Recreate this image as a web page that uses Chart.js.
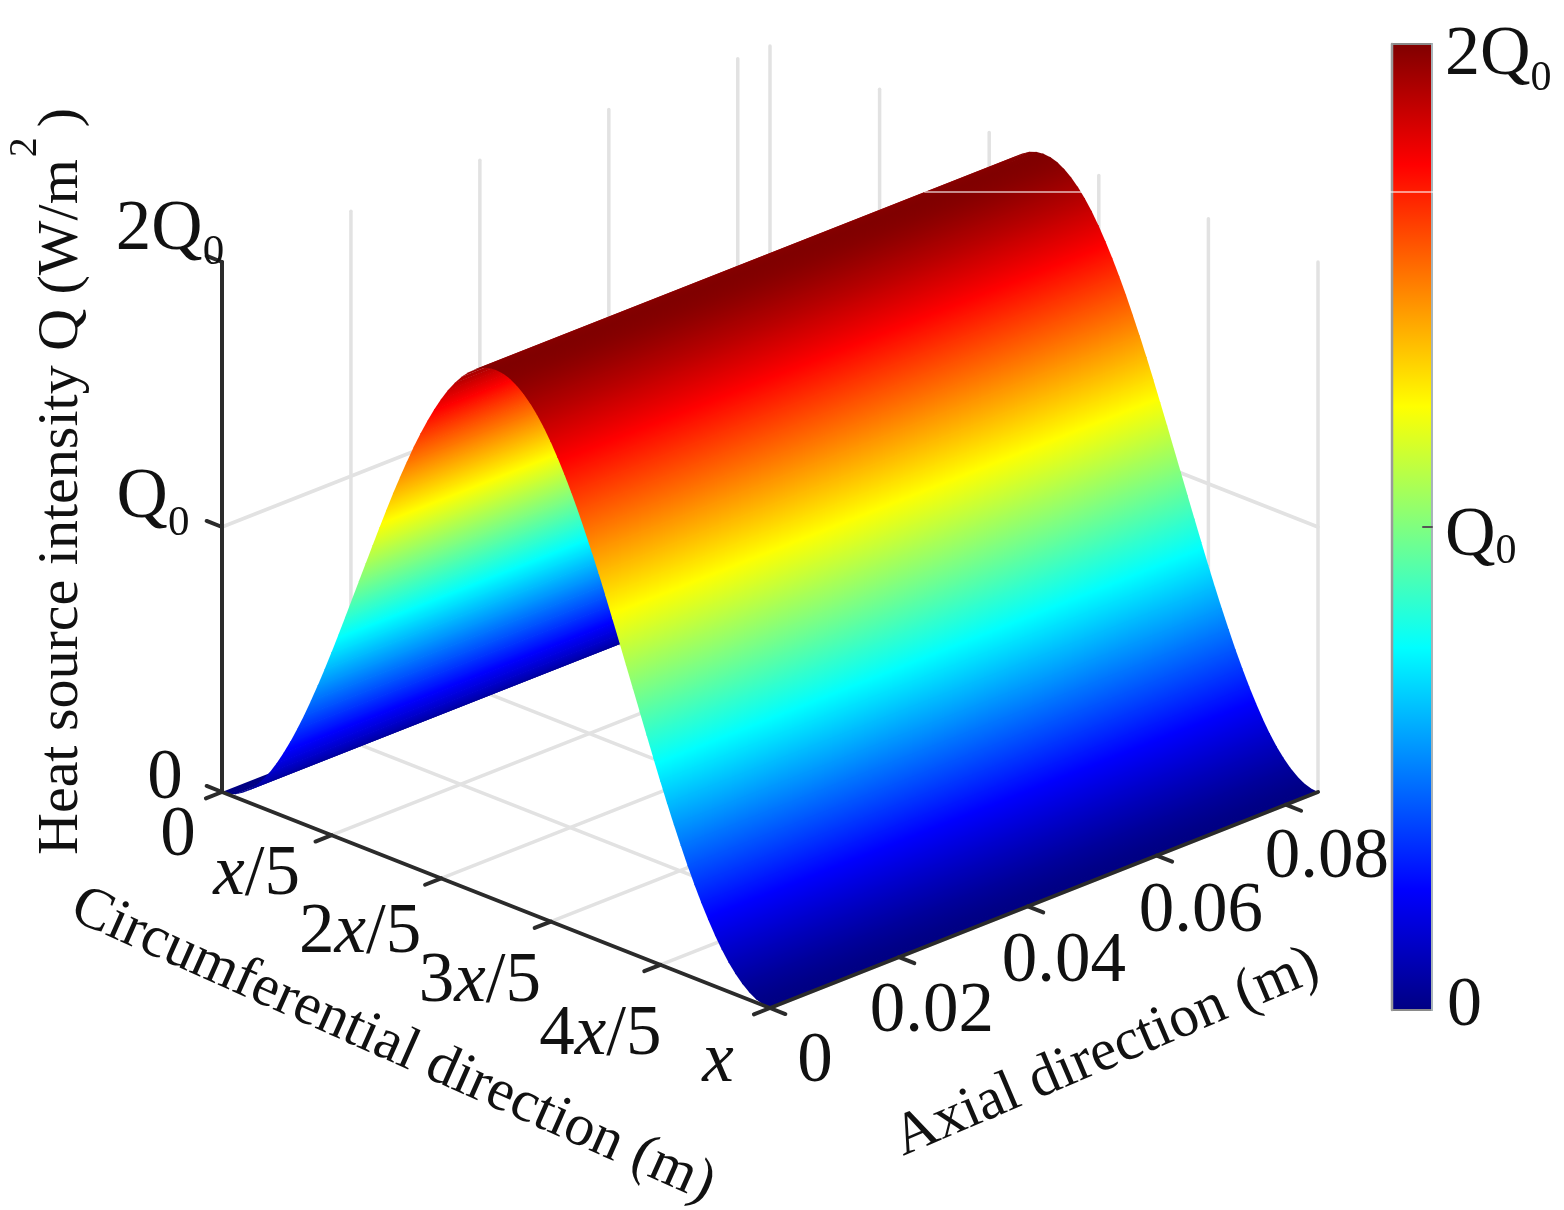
<!DOCTYPE html>
<html>
<head>
<meta charset="utf-8">
<title>Heat source intensity</title>
<script src="https://cdn.jsdelivr.net/npm/chart.js@4"></script>
<style>
  html, body { margin: 0; padding: 0; background: #fff; }
  canvas { display: block; filter: blur(0.6px); }
</style>
</head>
<body>
<canvas id="myChart" width="1564" height="1210"></canvas>
<script>
// Circumferential position as a share of x, read along the front edge of the surface
const circumPos = [0, 0.0125, 0.025, 0.0375, 0.05, 0.0625, 0.075, 0.0875, 0.1, 0.1125, 0.125, 0.1375, 0.15, 0.1625, 0.175, 0.1875, 0.2, 0.2125, 0.225, 0.2375,
    0.25, 0.2625, 0.275, 0.2875, 0.3, 0.3125, 0.325, 0.3375, 0.35, 0.3625, 0.375, 0.3875, 0.4, 0.4125, 0.425, 0.4375, 0.45, 0.4625, 0.475, 0.4875,
    0.5, 0.5125, 0.525, 0.5375, 0.55, 0.5625, 0.575, 0.5875, 0.6, 0.6125, 0.625, 0.6375, 0.65, 0.6625, 0.675, 0.6875, 0.7, 0.7125, 0.725, 0.7375,
    0.75, 0.7625, 0.775, 0.7875, 0.8, 0.8125, 0.825, 0.8375, 0.85, 0.8625, 0.875, 0.8875, 0.9, 0.9125, 0.925, 0.9375, 0.95, 0.9625, 0.975, 0.9875, 1];
// Q / Q0 at each circumferential position
const heatValues = [0, 0.003, 0.012, 0.028, 0.049, 0.076, 0.109, 0.147, 0.191, 0.24, 0.293, 0.351, 0.412, 0.478, 0.546, 0.617, 0.691, 0.767, 0.844, 0.922,
    1, 1.078, 1.156, 1.233, 1.309, 1.383, 1.454, 1.522, 1.588, 1.649, 1.707, 1.76, 1.809, 1.853, 1.891, 1.924, 1.951, 1.972, 1.988, 1.997,
    2, 1.997, 1.988, 1.972, 1.951, 1.924, 1.891, 1.853, 1.809, 1.76, 1.707, 1.649, 1.588, 1.522, 1.454, 1.383, 1.309, 1.233, 1.156, 1.078,
    1, 0.922, 0.844, 0.767, 0.691, 0.617, 0.546, 0.478, 0.412, 0.351, 0.293, 0.24, 0.191, 0.147, 0.109, 0.076, 0.049, 0.028, 0.012, 0.003, 0];
const axialPos = [0, 0.085];

const circumTicks = [0, 0.2, 0.4, 0.6, 0.8, 1];
const circumTickLabels = ['0', 'x/5', '2x/5', '3x/5', '4x/5', 'x'];
const axialTicks = [0, 0.02, 0.04, 0.06, 0.08];
const axialTickLabels = ['0', '0.02', '0.04', '0.06', '0.08'];
const heatTicks = [0, 1, 2];
const heatTickLabels = ['0', 'Q0', '2Q0'];

// jet colormap, position on the 0..2Q0 range
const jetPos = [0, 0.125, 0.375, 0.625, 0.875, 1];
const jetRgb = [[0, 0, 131], [0, 0, 255], [0, 255, 255], [255, 255, 0], [255, 0, 0], [128, 0, 0]];

// Projection of the box on the page
const corner = { x0: 222, y0: 792, cx: 548, cy: 216, ax: 548, ay: -216, zh: 530 };
const axialMax = axialPos[axialPos.length - 1];
const cbar = { left: 1392, right: 1432, top: 44, bottom: 1010 };

function project(c, a, q) {
    let t = a / axialMax;
    return {
        x: corner.x0 + corner.cx * c + corner.ax * t,
        y: corner.y0 + corner.cy * c + corner.ay * t - corner.zh * q / 2
    };
}

function jetColor(v) {
    let i = 0;
    while (i < jetPos.length - 2 && v > jetPos[i + 1]) i++;
    let t = Math.min(1, Math.max(0, (v - jetPos[i]) / (jetPos[i + 1] - jetPos[i])));
    let c = jetRgb[i].map((k, n) => Math.round(k + (jetRgb[i + 1][n] - k) * t));
    return `rgb(${c[0]},${c[1]},${c[2]})`;
}

let datasets = [];

function addLine(a, b, color, width) {
    datasets.push({
        data: [a, b], showLine: true, pointRadius: 0, borderColor: color, borderWidth: width,
        borderCapStyle: 'round', tension: 0
    });
}

function addPolygon(points, vLow, vHigh) {
    datasets.push({ data: points, showLine: false, pointRadius: 0, polygon: true, vLow: vLow, vHigh: vHigh });
}

const gridColor = '#e2e2e2';
const axisColor = '#2b2b2b';
const gridWidth = 3.5;
const axisWidth = 4;

// Back walls and floor grid
axialTicks.slice(1).forEach(a => {
    addLine(project(0, a, 0), project(0, a, 2), gridColor, gridWidth);
    addLine(project(0, a, 0), project(1, a, 0), gridColor, gridWidth);
});
addLine(project(0, axialMax, 0), project(0, axialMax, 2), gridColor, gridWidth);
circumTicks.slice(1).forEach(c => {
    addLine(project(c, axialMax, 0), project(c, axialMax, 2), gridColor, gridWidth);
    addLine(project(c, 0, 0), project(c, axialMax, 0), gridColor, gridWidth);
});
addLine(project(0, 0, 1), project(0, axialMax, 1), gridColor, gridWidth);
addLine(project(0, axialMax, 1), project(1, axialMax, 1), gridColor, gridWidth);

// Surface strips, far side first so the nearer ones cover them
for (let i = 0; i < circumPos.length - 1; i++) {
    addPolygon([
        project(circumPos[i], axialPos[0], heatValues[i]),
        project(circumPos[i], axialPos[1], heatValues[i]),
        project(circumPos[i + 1], axialPos[1], heatValues[i + 1]),
        project(circumPos[i + 1], axialPos[0], heatValues[i + 1])
    ], heatValues[i] / 2, heatValues[i + 1] / 2);
}

// Axes and tick marks
addLine(project(0, 0, 0), project(1, 0, 0), axisColor, axisWidth);
addLine(project(1, 0, 0), project(1, axialMax, 0), axisColor, axisWidth);
addLine(project(0, 0, 0), project(0, 0, 2), axisColor, axisWidth);
const tickC = 0.028, tickA = 0.0025;
circumTicks.forEach(c => addLine(project(c, 0, 0), project(c, -tickA, 0), axisColor, axisWidth));
axialTicks.forEach(a => addLine(project(1, a, 0), project(1 + tickC, a, 0), axisColor, axisWidth));
heatTicks.forEach(q => addLine(project(0, 0, q), project(-tickC, 0, q), axisColor, axisWidth));

// Colour bar
function cbarY(q) {
    return cbar.bottom - (cbar.bottom - cbar.top) * q / 2;
}
addPolygon([
    { x: cbar.left, y: cbarY(0) }, { x: cbar.right, y: cbarY(0) },
    { x: cbar.right, y: cbarY(2) }, { x: cbar.left, y: cbarY(2) }
], 0, 1);
addLine({ x: cbar.left, y: cbar.top }, { x: cbar.right, y: cbar.top }, '#8a8a8a', 2);
addLine({ x: cbar.left, y: cbar.bottom }, { x: cbar.right, y: cbar.bottom }, '#8a8a8a', 2);
addLine({ x: cbar.left, y: cbar.top }, { x: cbar.left, y: cbar.bottom }, '#9a9a9a', 2.5);
addLine({ x: cbar.right, y: cbar.top }, { x: cbar.right, y: cbar.bottom }, '#a8b4b8', 2);
addLine({ x: cbar.right - 9, y: cbarY(1) }, { x: cbar.right, y: cbarY(1) }, '#555', 2);

// Pale line that runs across the picture
addLine({ x: 925, y: 192 }, { x: 1082, y: 192 }, 'rgba(255,255,255,0.55)', 2);
addLine({ x: cbar.left - 1, y: 192 }, { x: cbar.right + 1, y: 192 }, 'rgba(255,255,255,0.55)', 2);

// Chart.js paints the highest order first
datasets.forEach((d, i) => { d.order = datasets.length - i; });

const polygonFill = {
    id: 'polygonFill',
    afterDatasetDraw(chart, args) {
        let ds = chart.data.datasets[args.index];
        if (!ds.polygon) return;
        let pts = args.meta.data;
        let ctx = chart.ctx;
        let ux = pts[1].x - pts[0].x, uy = pts[1].y - pts[0].y;
        let ulen = Math.hypot(ux, uy);
        ux /= ulen; uy /= ulen;
        let wx = pts[3].x - pts[0].x, wy = pts[3].y - pts[0].y;
        let wlen = Math.hypot(wx, wy);
        let along = wx * ux + wy * uy;
        let dx = wx - along * ux, dy = wy - along * uy;
        let fill = jetColor((ds.vLow + ds.vHigh) / 2);
        let backX = 0, backY = 0;
        if (Math.hypot(dx, dy) > 0.05 && ds.vLow !== ds.vHigh) {
            fill = ctx.createLinearGradient(pts[0].x, pts[0].y, pts[0].x + dx, pts[0].y + dy);
            fill.addColorStop(0, jetColor(ds.vLow));
            jetPos.forEach(v => {
                let t = (v - ds.vLow) / (ds.vHigh - ds.vLow);
                if (t > 0 && t < 1) fill.addColorStop(t, jetColor(v));
            });
            fill.addColorStop(1, jetColor(ds.vHigh));
            // run a little under the previous strip so no seam shows, along the profile so the outline stays clean
            if (ds.vLow > 0) {
                backX = -wx / wlen * 1.2;
                backY = -wy / wlen * 1.2;
            }
        }
        ctx.save();
        ctx.beginPath();
        ctx.moveTo(pts[0].x + backX, pts[0].y + backY);
        ctx.lineTo(pts[1].x + backX, pts[1].y + backY);
        ctx.lineTo(pts[2].x, pts[2].y);
        ctx.lineTo(pts[3].x, pts[3].y);
        ctx.closePath();
        ctx.fillStyle = fill;
        ctx.fill();
        ctx.restore();
    }
};

// Text pieces: italic x, subscript 0 after Q
function pieces(label, size, subDrop) {
    let out = [];
    for (let i = 0; i < label.length; i++) {
        let ch = label[i];
        if (ch === 'x') out.push({ t: ch, font: `italic ${size}px "Liberation Serif"`, dy: 0 });
        else if (ch === '0' && label[i - 1] === 'Q') out.push({ t: ch, font: `${Math.round(size * 0.6)}px "Liberation Serif"`, dy: subDrop });
        else out.push({ t: ch, font: `${size}px "Liberation Serif"`, dy: 0 });
    }
    return out;
}

function drawPieces(ctx, list, x, y) {
    list.forEach(p => {
        ctx.font = p.font;
        ctx.fillText(p.t, x, y + p.dy);
        x += ctx.measureText(p.t).width;
    });
    return x;
}

function piecesWidth(ctx, list) {
    return list.reduce((w, p) => {
        ctx.font = p.font;
        return w + ctx.measureText(p.t).width;
    }, 0);
}

function centered(ctx, label, size, x, y, subDrop) {
    let list = pieces(label, size, subDrop || 0);
    drawPieces(ctx, list, x - piecesWidth(ctx, list) / 2, y);
}

function rotated(ctx, text, size, x, y, angle) {
    ctx.save();
    ctx.translate(x, y);
    ctx.rotate(angle * Math.PI / 180);
    ctx.font = `${size}px "Liberation Serif"`;
    ctx.fillText(text, 0, 0);
    ctx.restore();
}

const circumLabelOffset = [[-44, 63], [-75, 59], [-81, 74], [-71, 79], [-60, 89], [-52, 73]];
const axialLabelOffset = [[45, 73], [33, 74], [36, 75], [44, 75], [41, 72]];
const heatLabelAt = [[165, 798], [153, 517], [170, 249]];
const heatSubDrop = [0, 18, 15];
const cbarLabelAt = [[1447, 1025], [1445, 555], [1445, 74]];
const cbarSubDrop = [0, 8, 16];

const textLayer = {
    id: 'textLayer',
    afterDraw(chart) {
        let ctx = chart.ctx;
        ctx.save();
        ctx.fillStyle = '#111';
        ctx.textBaseline = 'alphabetic';
        ctx.textAlign = 'left';

        circumTicks.forEach((c, i) => {
            let p = project(c, 0, 0);
            centered(ctx, circumTickLabels[i], 71, p.x + circumLabelOffset[i][0], p.y + circumLabelOffset[i][1]);
        });
        axialTicks.forEach((a, i) => {
            let p = project(1, a, 0);
            centered(ctx, axialTickLabels[i], 71, p.x + axialLabelOffset[i][0], p.y + axialLabelOffset[i][1]);
        });
        heatTicks.forEach((q, i) => {
            centered(ctx, heatTickLabels[i], 71, heatLabelAt[i][0], heatLabelAt[i][1], heatSubDrop[i]);
        });
        heatTicks.forEach((q, i) => {
            drawPieces(ctx, pieces(heatTickLabels[i], 70, cbarSubDrop[i]), cbarLabelAt[i][0], cbarLabelAt[i][1]);
        });

        rotated(ctx, 'Circumferential direction (m)', 59, 68, 918, 24);
        rotated(ctx, 'Axial direction (m)', 59, 903, 1156, -23);

        // vertical title with the raised 2
        ctx.save();
        ctx.translate(77, 855);
        ctx.rotate(-Math.PI / 2);
        ctx.font = '58px "Liberation Serif"';
        let title = 'Heat source intensity Q (W/m';
        ctx.fillText(title, 0, 0);
        let w = ctx.measureText(title).width;
        ctx.font = '40px "Liberation Serif"';
        ctx.fillText('2', w + 2, -41);
        ctx.font = '58px "Liberation Serif"';
        ctx.fillText(')', w + 32, 0);
        ctx.restore();
        ctx.restore();
    }
};

new Chart(document.getElementById('myChart'), {
    type: 'scatter',
    data: { datasets: datasets },
    plugins: [polygonFill, textLayer],
    options: {
        responsive: false,
        animation: false,
        devicePixelRatio: 1,
        layout: { padding: 0 },
        plugins: { legend: { display: false }, tooltip: { enabled: false } },
        scales: {
            x: { type: 'linear', min: 0, max: 1564, display: false },
            y: { type: 'linear', min: 0, max: 1210, reverse: true, display: false }
        }
    }
});
</script>
</body>
</html>
